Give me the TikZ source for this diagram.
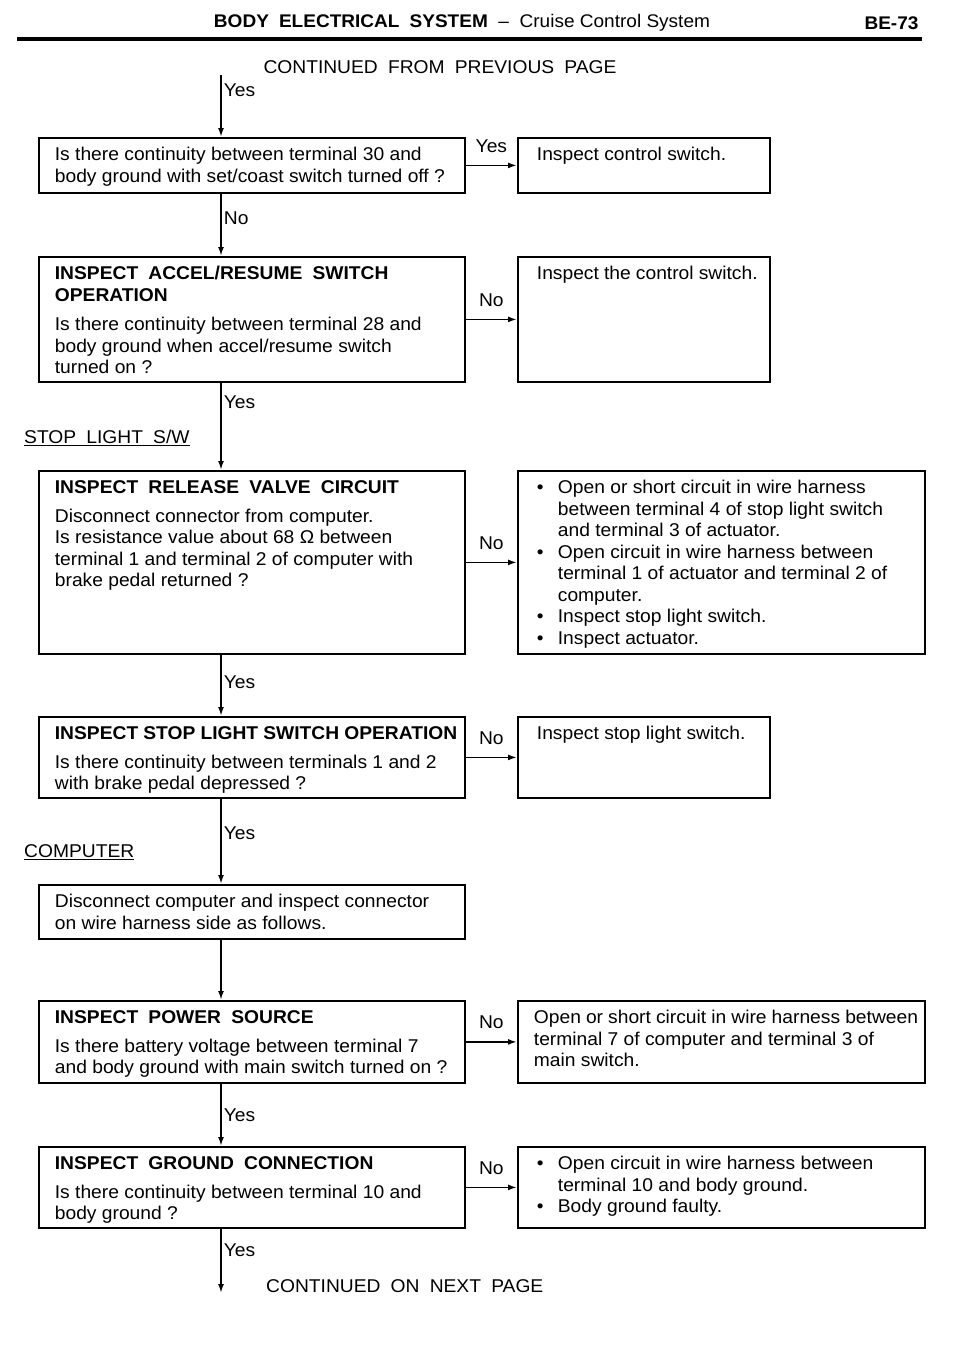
\documentclass[tikz,border=0pt]{standalone}
\usepackage{fontspec}
\setmainfont{Liberation Sans}[FakeStretch=1.04]
\usetikzlibrary{positioning}
\usetikzlibrary{arrows.meta}

\newcommand{\bodyfont}{\fontsize{18.5}{21.5}\selectfont}
\newcommand{\headfont}{\fontsize{18.3}{23}\selectfont}
\newcommand{\boxtext}[3]{\parbox[c][#2][t]{#1}{\rightskip=0pt minus 60pt\strut#3}}
\newcommand{\bul}{\makebox[21pt][l]{\textbullet}}
\newcommand{\ind}{\hspace*{21pt}}
\newcommand{\gap}{\hspace{0.55em}}

\tikzset{
  qbox/.style={draw, line width=1.8pt, anchor=north west, inner xsep=16pt, inner ysep=8pt, font=\bodyfont},
  abox/.style={qbox, inner xsep=19pt},
  lbl/.style={font=\bodyfont, inner sep=2pt},
  flow/.style={line width=1.8pt, ->},
}

\begin{document}
\begin{tikzpicture}[x=1pt, y=-1pt, >={Latex[length=9pt,width=6pt]}]
    \useasboundingbox (0,0) rectangle (960,1350);

    % page header
    \node[font=\headfont] (head) at (462,23) {\textbf{BODY\gap ELECTRICAL\gap SYSTEM}\ \ --\ \ Cruise Control System};
    \node[font=\headfont\bfseries, anchor=east] (page) at (922,23) {BE-73};
    \draw[line width=3.5pt] (17,39) -- (922,39);

    \node[lbl] (contfrom) at (440,67) {CONTINUED\gap FROM\gap PREVIOUS\gap PAGE};
    \coordinate (spine) at (221,0);
    \coordinate (start) at (221,75);

    % checks and results
    \node[qbox] (q1) at (38,137) {\boxtext{394pt}{39pt}{Is there continuity between terminal 30 and\\ body ground with set/coast switch turned off ?}};
    \node[abox] (r1) at (517,137) {\boxtext{214pt}{39pt}{Inspect control switch.}};

    \node[qbox] (q2) at (38,256) {\boxtext{394pt}{109pt}{\textbf{INSPECT\gap ACCEL/RESUME\gap SWITCH\\ OPERATION}\\[8pt] Is there continuity between terminal 28 and\\ body ground when accel/resume switch\\ turned on ?}};
    \node[abox] (r2) at (517,256) {\boxtext{214pt}{109pt}{Inspect the control switch.}};

    \node[lbl, anchor=west] (stopsw) at (22,438) {\underline{STOP\gap LIGHT\gap S/W}};

    \node[qbox] (q3) at (38,470) {\boxtext{394pt}{167pt}{\textbf{INSPECT\gap RELEASE\gap VALVE\gap CIRCUIT}\\[7pt] Disconnect connector from computer.\\ Is resistance value about 68 Ω between\\ terminal 1 and terminal 2 of computer with\\ brake pedal returned ?}};
    \node[abox] (r3) at (517,470) {\boxtext{369pt}{167pt}{\bul Open or short circuit in wire harness\\ \ind between terminal 4 of stop light switch\\ \ind and terminal 3 of actuator.\\ \bul Open circuit in wire harness between\\ \ind terminal 1 of actuator and terminal 2 of\\ \ind computer.\\ \bul Inspect stop light switch.\\ \bul Inspect actuator.}};

    \node[qbox] (q4) at (38,716) {\boxtext{394pt}{65pt}{\textbf{INSPECT STOP LIGHT SWITCH OPERATION}\\[7pt] Is there continuity between terminals 1 and 2\\ with brake pedal depressed ?}};
    \node[abox] (r4) at (517,716) {\boxtext{214pt}{65pt}{Inspect stop light switch.}};

    \node[lbl, anchor=west] (comp) at (22,852) {\underline{COMPUTER}};

    \node[qbox] (q5) at (38,884) {\boxtext{394pt}{38pt}{Disconnect computer and inspect connector\\ on wire harness side as follows.}};

    \node[qbox] (q6) at (38,1000) {\boxtext{394pt}{66pt}{\textbf{INSPECT\gap POWER\gap SOURCE}\\[7pt] Is there battery voltage between terminal 7\\ and body ground with main switch turned on ?}};
    \node[abox, inner xsep=16pt] (r6) at (517,1000) {\boxtext{375pt}{66pt}{Open or short circuit in wire harness between\\ terminal 7 of computer and terminal 3 of\\ main switch.}};

    \node[qbox] (q7) at (38,1146) {\boxtext{394pt}{65pt}{\textbf{INSPECT\gap GROUND\gap CONNECTION}\\[7pt] Is there continuity between terminal 10 and\\ body ground ?}};
    \node[abox] (r7) at (517,1146) {\boxtext{369pt}{65pt}{\bul Open circuit in wire harness between\\ \ind terminal 10 and body ground.\\ \bul Body ground faulty.}};

    \coordinate (finish) at (221,1293);
    \node[lbl, anchor=west] (contnext) at (264,1286) {CONTINUED\gap ON\gap NEXT\gap PAGE};

    % main line
    \draw[flow] (start) -- node[lbl, right, pos=0.25] {Yes} (q1.north -| spine);
    \draw[flow] (q1.south -| spine) -- node[lbl, right, pos=0.4] {No} (q2.north -| spine);
    \draw[flow] (q2.south -| spine) -- node[lbl, right, pos=0.22] {Yes} (q3.north -| spine);
    \draw[flow] (q3.south -| spine) -- node[lbl, right, pos=0.45] {Yes} (q4.north -| spine);
    \draw[flow] (q4.south -| spine) -- node[lbl, right, pos=0.4] {Yes} (q5.north -| spine);
    \draw[flow] (q5.south -| spine) -- (q6.north -| spine);
    \draw[flow] (q6.south -| spine) -- node[lbl, right, pos=0.5] {Yes} (q7.north -| spine);
    \draw[flow] (q7.south -| spine) -- node[lbl, right, pos=0.33] {Yes} (finish);

    % side branches
    \draw[flow] (q1.east) -- node[lbl, above=10pt] {Yes} (q1.east -| r1.west);
    \draw[flow] (q2.east) -- node[lbl, above=10pt] {No} (q2.east -| r2.west);
    \draw[flow] (q3.east) -- node[lbl, above=10pt] {No} (q3.east -| r3.west);
    \draw[flow] (q4.east) -- node[lbl, above=10pt] {No} (q4.east -| r4.west);
    \draw[flow] (q6.east) -- node[lbl, above=10pt] {No} (q6.east -| r6.west);
    \draw[flow] (q7.east) -- node[lbl, above=10pt] {No} (q7.east -| r7.west);
\end{tikzpicture}
\end{document}
